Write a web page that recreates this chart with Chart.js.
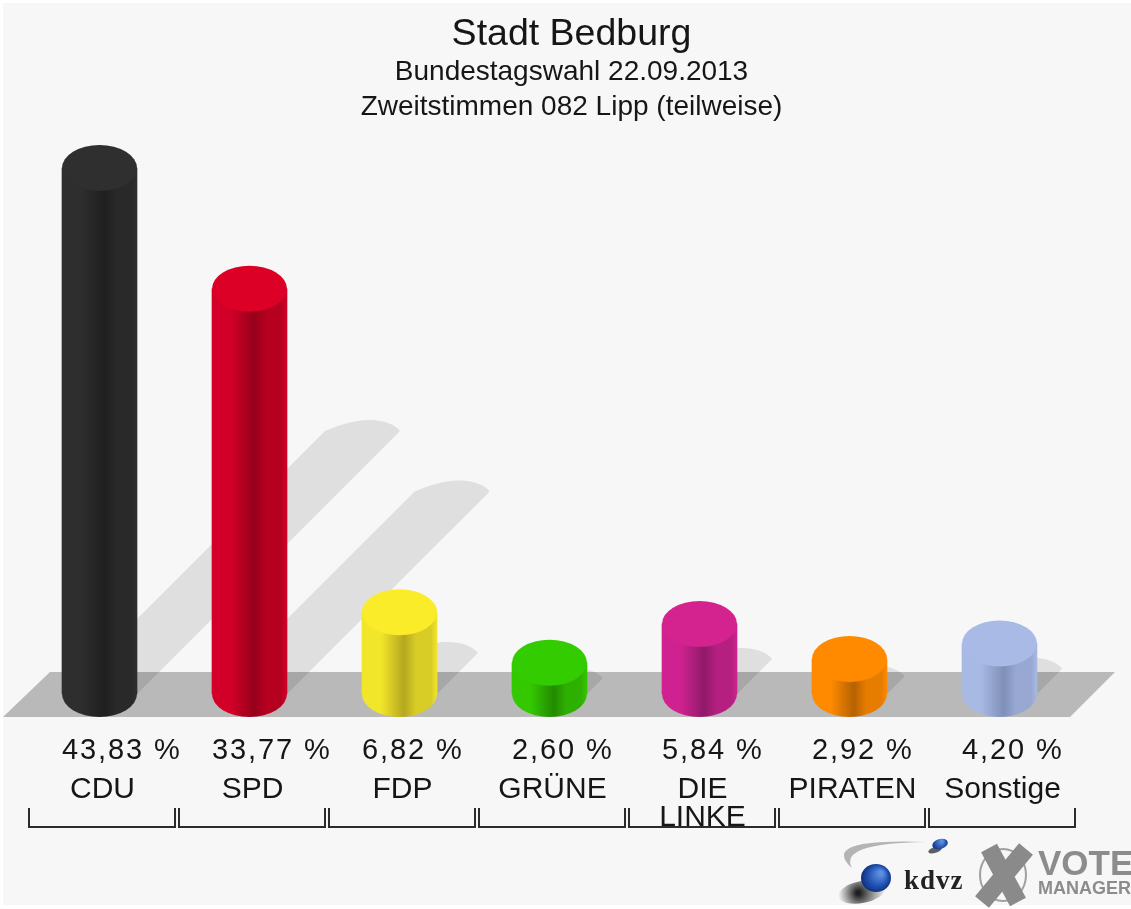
<!DOCTYPE html>
<html lang="de">
<head>
<meta charset="utf-8">
<title>Stadt Bedburg</title>
<script src="https://cdn.jsdelivr.net/npm/chart.js@4/dist/chart.umd.js"></script>
<style>
    html, body { margin: 0; padding: 0; background: #ffffff; overflow: hidden; }
    #wrap { position: relative; width: 1131px; height: 909px; overflow: hidden; }
    #chart { position: absolute; left: 0; top: 0; filter: blur(0.5px); }
</style>
</head>
<body>
<div id="wrap"><canvas id="chart" width="1143" height="909"></canvas></div>
<script>
const parties = ['CDU', 'SPD', 'FDP', 'GRÜNE', ['DIE', 'LINKE'], 'PIRATEN', 'Sonstige'];
const shares = [43.83, 33.77, 6.82, 2.60, 5.84, 2.92, 4.20];

const topColors = ['#2f2f2f', '#dc0026', '#fbec2a', '#33cc00', '#d4238f', '#ff8a00', '#a9bae6'];
const edgeColors = ['#2e2e2e', '#d20028', '#f2e62a', '#33c800', '#cf2290', '#ff8a00', '#a8b9e4'];
const darkColors = ['#1f1f1f', '#96001a', '#b5a820', '#228a00', '#8f1a68', '#b56200', '#7f8fb8'];
const rightColors = ['#292929', '#b5001f', '#d8cc26', '#2eb000', '#b41f80', '#e67c00', '#98a8d2'];

const RY = 23;
const SHADOW_CAP = 11;
const TEXT_COLOR = '#161616';

function sideGradient(ctx, x, halfWidth, i) {
    const g = ctx.createLinearGradient(x - halfWidth, 0, x + halfWidth, 0);
    g.addColorStop(0, edgeColors[i]);
    g.addColorStop(0.25, edgeColors[i]);
    g.addColorStop(0.56, darkColors[i]);
    g.addColorStop(0.72, rightColors[i]);
    g.addColorStop(0.92, rightColors[i]);
    g.addColorStop(1, edgeColors[i]);
    return g;
}

function shadowPath(ctx, bar) {
    const w = bar.width / 2;
    const shift = (bar.base - bar.y) / 2;
    const endX = bar.x + shift;
    const endY = bar.base - shift;
    ctx.beginPath();
    ctx.moveTo(bar.x - w, bar.base);
    ctx.lineTo(endX - w, endY);
    // the far end of the shadow leans to the right
    ctx.bezierCurveTo(endX - 0.45 * w, endY - 0.8 * SHADOW_CAP, endX - 0.1 * w, endY - SHADOW_CAP, endX + 0.2 * w, endY - SHADOW_CAP);
    ctx.bezierCurveTo(endX + 0.6 * w, endY - SHADOW_CAP, endX + 0.9 * w, endY - 0.5 * SHADOW_CAP, endX + w, endY);
    ctx.lineTo(bar.x + w, bar.base);
    ctx.closePath();
}

function floorPath(ctx, area) {
    ctx.beginPath();
    ctx.moveTo(area.left - 21.5, area.bottom + 23);
    ctx.lineTo(area.left + 25.5, area.bottom - 22);
    ctx.lineTo(area.right + 40.5, area.bottom - 22);
    ctx.lineTo(area.right - 4.5, area.bottom + 23);
    ctx.closePath();
}

// backdrop, floor and the cast shadows sit under the bars
const stagePlugin = {
    id: 'stage',
    beforeDraw(chart) {
        const ctx = chart.ctx;
        ctx.save();
        ctx.fillStyle = '#f7f7f7';
        ctx.fillRect(3, 3, chart.width, 902);
        ctx.restore();
    },
    beforeDatasetsDraw(chart) {
        const ctx = chart.ctx;
        const area = chart.chartArea;
        const bars = chart.getDatasetMeta(0).data;
        ctx.save();
        ctx.fillStyle = '#dfdfdf';
        bars.forEach(bar => { shadowPath(ctx, bar); ctx.fill(); });
        ctx.fillStyle = '#b9b9b9';
        floorPath(ctx, area);
        ctx.fill();
        floorPath(ctx, area);
        ctx.clip();
        ctx.fillStyle = '#a7a7a7';
        bars.forEach(bar => { shadowPath(ctx, bar); ctx.fill(); });
        ctx.restore();
    }
};

// rounds the bars off into cylinders and writes the percentages below them
const cylinderPlugin = {
    id: 'cylinder',
    afterDatasetsDraw(chart) {
        const ctx = chart.ctx;
        const bars = chart.getDatasetMeta(0).data;
        ctx.save();
        bars.forEach((bar, i) => {
            const halfWidth = bar.width / 2;
            ctx.fillStyle = sideGradient(ctx, bar.x, halfWidth, i);
            ctx.beginPath();
            ctx.ellipse(bar.x, bar.base, halfWidth, RY, 0, 0, Math.PI);
            ctx.fill();
            ctx.fillStyle = topColors[i];
            ctx.beginPath();
            ctx.ellipse(bar.x, bar.y, halfWidth, RY, 0, 0, 2 * Math.PI);
            ctx.fill();

            ctx.fillStyle = TEXT_COLOR;
            ctx.font = '29px "Liberation Sans"';
            ctx.letterSpacing = '1.9px';
            ctx.textAlign = 'left';
            ctx.textBaseline = 'alphabetic';
            ctx.fillText(shares[i].toFixed(2).replace('.', ',') + ' %', bar.x - halfWidth, 759);
        });
        ctx.restore();
    },
    afterDraw(chart) {
        const ctx = chart.ctx;
        const x = chart.scales.x;
        ctx.save();
        ctx.strokeStyle = '#2b2b2b';
        ctx.lineWidth = 2;
        parties.forEach((p, i) => {
            const c = x.getPixelForValue(i);
            ctx.beginPath();
            ctx.moveTo(c - 70.5, 808);
            ctx.lineTo(c - 70.5, 827);
            ctx.lineTo(c + 75.5, 827);
            ctx.lineTo(c + 75.5, 808);
            ctx.stroke();
        });
        ctx.restore();
        drawLogos(ctx);
    }
};

function drawLogos(ctx) {
    ctx.save();
    // kdvz swoosh and spheres
    ctx.fillStyle = '#b4b4b4';
    ctx.beginPath();
    ctx.moveTo(852, 868);
    ctx.quadraticCurveTo(818, 838, 926, 842);
    ctx.quadraticCurveTo(838, 843, 852, 868);
    ctx.fill();
    let shade = ctx.createRadialGradient(858, 893, 2, 862, 893, 24);
    shade.addColorStop(0, 'rgba(20,20,20,0.95)');
    shade.addColorStop(1, 'rgba(60,60,60,0)');
    ctx.fillStyle = shade;
    ctx.beginPath();
    ctx.ellipse(862, 892, 24, 11, -0.2, 0, 2 * Math.PI);
    ctx.fill();
    let ball = ctx.createRadialGradient(881, 873, 2, 876, 878, 16);
    ball.addColorStop(0, '#5d8fe0');
    ball.addColorStop(0.6, '#1f4fb0');
    ball.addColorStop(1, '#0c2a70');
    ctx.fillStyle = ball;
    ctx.beginPath();
    ctx.ellipse(876, 878, 15, 14, 0, 0, 2 * Math.PI);
    ctx.fill();
    ctx.fillStyle = 'rgba(30,30,30,0.7)';
    ctx.beginPath();
    ctx.ellipse(935, 850, 7, 3, -0.3, 0, 2 * Math.PI);
    ctx.fill();
    ball = ctx.createRadialGradient(942, 841, 1, 940, 843, 7);
    ball.addColorStop(0, '#5d8fe0');
    ball.addColorStop(1, '#143c96');
    ctx.fillStyle = ball;
    ctx.beginPath();
    ctx.ellipse(940, 844, 8, 5, -0.3, 0, 2 * Math.PI);
    ctx.fill();
    ctx.fillStyle = '#222222';
    ctx.font = 'bold 27px "Liberation Serif"';
    ctx.letterSpacing = '1px';
    ctx.textAlign = 'left';
    ctx.textBaseline = 'alphabetic';
    ctx.fillText('kdvz', 904, 889);
    ctx.letterSpacing = '0px';

    // vote manager mark
    ctx.strokeStyle = '#a0a0a0';
    ctx.lineWidth = 2;
    ctx.beginPath();
    ctx.ellipse(1003, 875, 23, 26, 0, 0, 2 * Math.PI);
    ctx.stroke();
    ctx.strokeStyle = '#8a8a8a';
    ctx.lineWidth = 18;
    ctx.beginPath();
    ctx.moveTo(989, 848);
    ctx.lineTo(1018, 902);
    ctx.moveTo(1026, 849);
    ctx.lineTo(982, 902);
    ctx.stroke();
    ctx.fillStyle = '#8c8c8c';
    ctx.font = 'bold 35px "Liberation Sans"';
    ctx.fillText('VOTE', 1038, 875);
    ctx.font = 'bold 18px "Liberation Sans"';
    ctx.fillText('MANAGER', 1038, 894);
    ctx.restore();
}

new Chart(document.getElementById('chart'), {
    type: 'bar',
    data: {
        labels: parties,
        datasets: [{
            data: shares,
            barThickness: 75,
            backgroundColor: c => {
                if (c.dataIndex === undefined) return edgeColors[0];
                const x = c.chart.scales.x.getPixelForValue(c.dataIndex);
                if (!Number.isFinite(x)) return edgeColors[c.dataIndex];
                return sideGradient(c.chart.ctx, x, 37.5, c.dataIndex);
            }
        }]
    },
    options: {
        responsive: false,
        animation: false,
        layout: { padding: 0 },
        scales: {
            x: {
                grid: { display: false },
                border: { display: false },
                afterFit: scale => {
                    scale.height = 215;
                    scale.paddingLeft = 24.5;
                    scale.paddingRight = 68.5;
                },
                ticks: {
                    maxRotation: 0,
                    autoSkip: false,
                    padding: 74,
                    labelOffset: 3,
                    color: TEXT_COLOR,
                    font: { family: '"Liberation Sans"', size: 30, lineHeight: 0.92 }
                }
            },
            y: { display: false, min: 0, max: 44 }
        },
        plugins: {
            legend: { display: false },
            tooltip: { enabled: false },
            title: {
                display: true,
                text: 'Stadt Bedburg',
                color: TEXT_COLOR,
                font: { family: '"Liberation Sans"', size: 37.5, weight: 'normal', lineHeight: 1.1 },
                padding: { top: 14, bottom: 0 }
            },
            subtitle: {
                display: true,
                text: ['Bundestagswahl 22.09.2013', 'Zweitstimmen 082 Lipp (teilweise)'],
                color: TEXT_COLOR,
                font: { family: '"Liberation Sans"', size: 28, weight: 'normal', lineHeight: 1.25 },
                padding: { top: 0, bottom: 40.75 }
            }
        }
    },
    plugins: [stagePlugin, cylinderPlugin]
});
</script>
</body>
</html>
